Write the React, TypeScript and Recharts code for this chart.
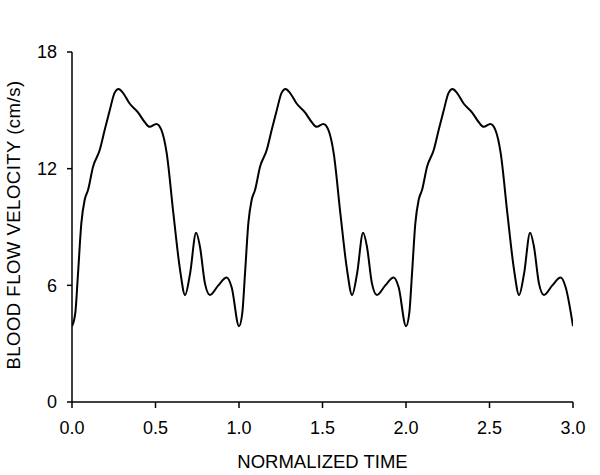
import React from "react";
import { LineChart, Line, XAxis, YAxis } from "recharts";

// One measured cardiac cycle (normalized time within the cycle, velocity in cm/s)
const cycleTimes = [
  0.0, 0.02, 0.036, 0.056, 0.076, 0.096, 0.126, 0.166, 0.196, 0.226, 0.255,
  0.279, 0.305, 0.345, 0.395, 0.435, 0.465, 0.505, 0.535, 0.567, 0.607, 0.647,
  0.677, 0.707, 0.743, 0.766, 0.796, 0.826, 0.876, 0.926, 0.956,
];
const cycleVelocities = [
  3.9, 4.6, 6.6, 9.2, 10.4, 10.9, 12.1, 12.96, 14.0, 15.0, 15.9,
  16.1, 15.9, 15.35, 14.9, 14.4, 14.15, 14.3, 14.0, 12.8, 9.7, 6.8,
  5.5, 6.6, 8.7, 8.0, 6.1, 5.5, 6.0, 6.4, 5.9,
];
const cycleStarts = [0, 1, 2];
const endTime = 3.0;
const endVelocity = 3.9;

const xTicks = [0, 0.5, 1.0, 1.5, 2.0, 2.5, 3.0];
const yTicks = [0, 6, 12, 18];

const data: { t: number; v: number }[] = [];
cycleStarts.forEach((start) => {
  cycleTimes.forEach((t, i) => {
    data.push({ t: start + t, v: cycleVelocities[i] });
  });
});
data.push({ t: endTime, v: endVelocity });

const FONT = "Liberation Sans, Arial, Helvetica, sans-serif";

const YLabel = (props: any) => {
  const vb = props.viewBox || {};
  const cx = vb.x + 13;
  const cy = vb.y + vb.height / 2 - 2;
  return (
    <text
      x={cx}
      y={cy}
      transform={`rotate(-90, ${cx}, ${cy})`}
      textAnchor="middle"
      dominantBaseline="central"
      fontFamily={FONT}
      fontSize={18.5}
      letterSpacing={0.5}
      fill="#000"
    >
      BLOOD FLOW VELOCITY (cm/s)
    </text>
  );
};

const XLabel = (props: any) => {
  const vb = props.viewBox || {};
  const cx = vb.x + vb.width / 2;
  return (
    <text
      x={cx}
      y={468}
      textAnchor="middle"
      fontFamily={FONT}
      fontSize={18.5}
      fill="#000"
    >
      NORMALIZED TIME
    </text>
  );
};

export default function App() {
  return (
    <div style={{ position: "absolute", left: 0, top: 0, background: "#fff" }}>
      <LineChart
        width={600}
        height={475}
        data={data}
        margin={{ top: 52, right: 27, left: 0, bottom: 0 }}
      >
        <XAxis
          dataKey="t"
          type="number"
          domain={[0, 3]}
          ticks={xTicks}
          tickFormatter={(v: number) => v.toFixed(1)}
          height={73}
          tickSize={6}
          tickMargin={13}
          axisLine={{ stroke: "#000", strokeWidth: 1.5 }}
          tickLine={{ stroke: "#000", strokeWidth: 1.5 }}
          tick={{ fill: "#000", fontSize: 18, fontFamily: FONT }}
          label={<XLabel />}
          allowDataOverflow
        />
        <YAxis
          type="number"
          domain={[0, 18]}
          ticks={yTicks}
          width={72}
          tickSize={5}
          tickMargin={10}
          axisLine={{ stroke: "#000", strokeWidth: 1.5 }}
          tickLine={{ stroke: "#000", strokeWidth: 1.5 }}
          tick={{ fill: "#000", fontSize: 18, fontFamily: FONT }}
          label={<YLabel />}
        />
        <Line
          dataKey="v"
          type="monotone"
          stroke="#000"
          strokeWidth={2}
          dot={false}
          activeDot={false}
          isAnimationActive={false}
        />
      </LineChart>
    </div>
  );
}
